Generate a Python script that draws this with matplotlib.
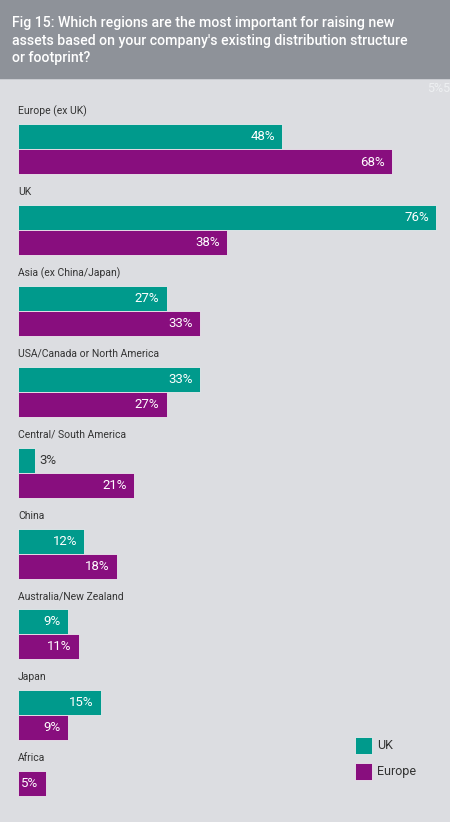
import matplotlib
matplotlib.use("Agg")
import matplotlib.pyplot as plt
from matplotlib.patches import Rectangle

categories = ["Europe (ex UK)", "UK", "Asia (ex China/Japan)", "USA/Canada or North America",
              "Central/ South America", "China", "Australia/New Zealand", "Japan", "Africa"]
uk_values = [48, 76, 27, 33, 3, 12, 9, 15, None]
europe_values = [68, 38, 33, 27, 21, 18, 11, 9, 5]
series_names = ["UK", "Europe"]
title = ("Fig 15: Which regions are the most important for raising new\n"
         "assets based on your company's existing distribution structure\n"
         "or footprint?")

TEAL = "#009a8c"
PURPLE = "#880e7e"
BG = "#dcdde1"
HEADER = "#8e9299"
FONT = ["Roboto", "DejaVu Sans"]

W, H = 450, 822
fig = plt.figure(figsize=(W / 100, H / 100), dpi=100)
fig.patch.set_facecolor(BG)

# header band
fig.patches.append(Rectangle((0, 1 - 79 / H), 1, 79 / H, transform=fig.transFigure,
                             facecolor=HEADER, edgecolor="none", zorder=0))
fig.patches.append(Rectangle((0, 1 - 80.5 / H), 1, 1.5 / H, transform=fig.transFigure,
                             facecolor="#c9cbd0", edgecolor="none", zorder=0))
fig.text(12 / W, 1 - 16 / H, title, color="white", fontsize=10.2, family=FONT,
         weight="medium", va="top", ha="left", linespacing=1.33)
fig.text(1.0, 1 - 88 / H, "5%5", color="#eef0f2", fontsize=9, family=FONT, va="center", ha="right")

px_per_pct = 5.5
left_px = 18
ax = fig.add_axes([left_px / W, 0, 1 - left_px / W, 1])
ax.set_xlim(0, (W - left_px) / px_per_pct)
ax.set_ylim(H, 0)
ax.axis("off")
ax.patch.set_alpha(0)

start = 124.5
step = 80.8
bh = 25
for i, cat in enumerate(categories):
    top = start + i * step
    ax.text(0, top - 13, cat, fontsize=7.5, color="#333333", family=FONT, va="center", ha="left")
    slots = []
    if uk_values[i] is not None:
        slots.append((uk_values[i], TEAL))
    slots.append((europe_values[i], PURPLE))
    for j, (v, c) in enumerate(slots):
        yc = top + j * bh + bh / 2
        ax.barh(yc, v, height=bh, color=c, edgecolor="#eceaee", linewidth=0.6)
        label = f"{v}%"
        if v >= 5:
            ax.annotate(label, (v, yc), xytext=(-7, 0), textcoords="offset pixels",
                        ha="right", va="center", color="white", fontsize=9.5, family=FONT)
        else:
            ax.annotate(label, (v, yc), xytext=(5, 0), textcoords="offset pixels",
                        ha="left", va="center", color="#333333", fontsize=9.5, family=FONT)

# legend
for k, (name, c) in enumerate(zip(series_names, [TEAL, PURPLE])):
    y0 = 737 + k * 26
    fig.patches.append(Rectangle((355 / W, 1 - (y0 + 17) / H), 17 / W, 17 / H,
                                 transform=fig.transFigure, facecolor=c,
                                 edgecolor="#eceaee", linewidth=0.6))
    fig.text(377 / W, 1 - (y0 + 8.5) / H, name, fontsize=9, color="#333333",
             family=FONT, va="center", ha="left")

fig.savefig("out.png", dpi=100, facecolor=BG)
